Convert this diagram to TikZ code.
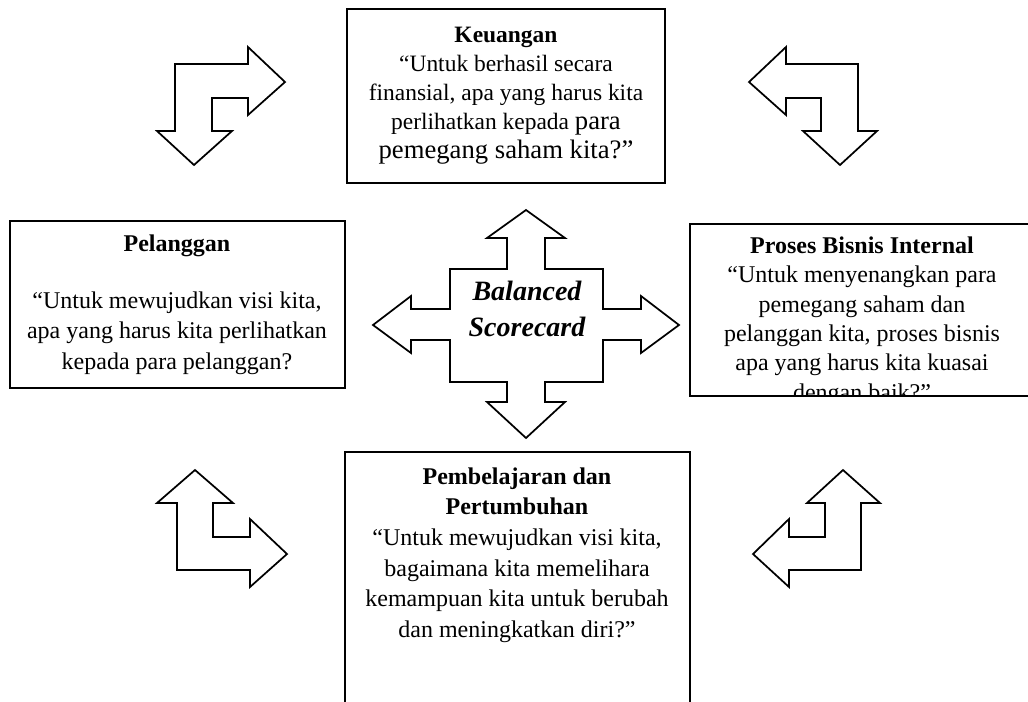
\documentclass[tikz,border=0pt]{standalone}
\usepackage{fontspec}
\setmainfont{Liberation Serif}
\begin{document}
\begin{tikzpicture}[x=0.75pt,y=-0.75pt,
  frame/.style={draw=black,line width=1.3pt},
  blockarrow/.style={draw=black,fill=white,line width=1.3pt,line join=miter},
  body/.style={align=center,inner sep=0pt,font=\fontsize{18}{23}\selectfont},
  bsc/.style={align=center,inner sep=0pt,font=\fontsize{21}{27}\selectfont\bfseries\itshape}
]
\useasboundingbox (0,0) rectangle (1028,701);

% perspective boxes
\draw[frame] (347,9) rectangle (665,183);
\draw[frame] (10,221) rectangle (345,388);
\draw[frame] (1030,224) -- (690,224) -- (690,396) -- (1030,396);
\draw[frame] (345,703) -- (345,452) -- (690,452) -- (690,703);

% central four-way arrow
\draw[blockarrow] (526,210) -- (565,238) -- (545,238) -- (545,269) -- (603,269)
  -- (603,309) -- (641,309) -- (641,296) -- (679,325) -- (641,353) -- (641,340)
  -- (603,340) -- (603,382) -- (545,382) -- (545,402) -- (565,402) -- (526,438)
  -- (487,402) -- (507,402) -- (507,382) -- (450,382) -- (450,340) -- (411,340)
  -- (411,353) -- (373,325) -- (411,296) -- (411,309) -- (450,309) -- (450,269)
  -- (507,269) -- (507,238) -- (487,238) -- cycle;

% bent arrows in the corners
\draw[blockarrow] (175,64) -- (248,64) -- (248,47) -- (285,82) -- (248,115)
  -- (248,98) -- (212,98) -- (212,131) -- (232,131) -- (194,165) -- (157,131)
  -- (175,131) -- cycle;
\draw[blockarrow] (858,64) -- (786,64) -- (786,47) -- (749,82) -- (786,115)
  -- (786,98) -- (821,98) -- (821,131) -- (803,131) -- (840,165) -- (877,131)
  -- (858,131) -- cycle;
\draw[blockarrow] (195,470) -- (233,503) -- (213,503) -- (213,537) -- (250,537)
  -- (250,519) -- (287,554) -- (250,587) -- (250,570) -- (177,570) -- (177,503)
  -- (157,503) -- cycle;
\draw[blockarrow] (843,470) -- (880,503) -- (861,503) -- (861,570) -- (789,570)
  -- (789,587) -- (753,554) -- (789,519) -- (789,537) -- (825,537) -- (825,503)
  -- (807,503) -- cycle;

% centre label
\node[bsc] (bsc) at (527,309) {Balanced\\Scorecard};

% Keuangan
\node[body,font=\fontsize{17.6}{21.75}\selectfont] (keuangan) at (506,96)
  {\textbf{Keuangan}\\
   “Untuk berhasil secara\\
   finansial, apa yang harus kita\\
   perlihatkan kepada {\fontsize{20}{21.75}\selectfont para}\\
   {\fontsize{20}{21.75}\selectfont pemegang saham kita?”}};

% Pelanggan
\node[body] (pelTitle) at (177,246) {\textbf{Pelanggan}};
\node[body] (pelanggan) at (177,333)
  {“Untuk mewujudkan visi kita,\\
   apa yang harus kita perlihatkan\\
   kepada para pelanggan?};

% Proses Bisnis Internal (last line cut by the frame)
\begin{scope}
  \clip (691,225) rectangle (1028,395);
  \node[body,font=\fontsize{18}{22}\selectfont] (proses) at (862,321)
    {\textbf{Proses Bisnis Internal}\\
     “Untuk menyenangkan para\\
     pemegang saham dan\\
     pelanggan kita, proses bisnis\\
     apa yang harus kita kuasai\\
     dengan baik?”};
\end{scope}

% Pembelajaran dan Pertumbuhan
\node[body] (belajar) at (517,555)
  {\textbf{Pembelajaran dan}\\
   \textbf{Pertumbuhan}\\
   “Untuk mewujudkan visi kita,\\
   bagaimana kita memelihara\\
   kemampuan kita untuk berubah\\
   dan meningkatkan diri?”};
\end{tikzpicture}
\end{document}
